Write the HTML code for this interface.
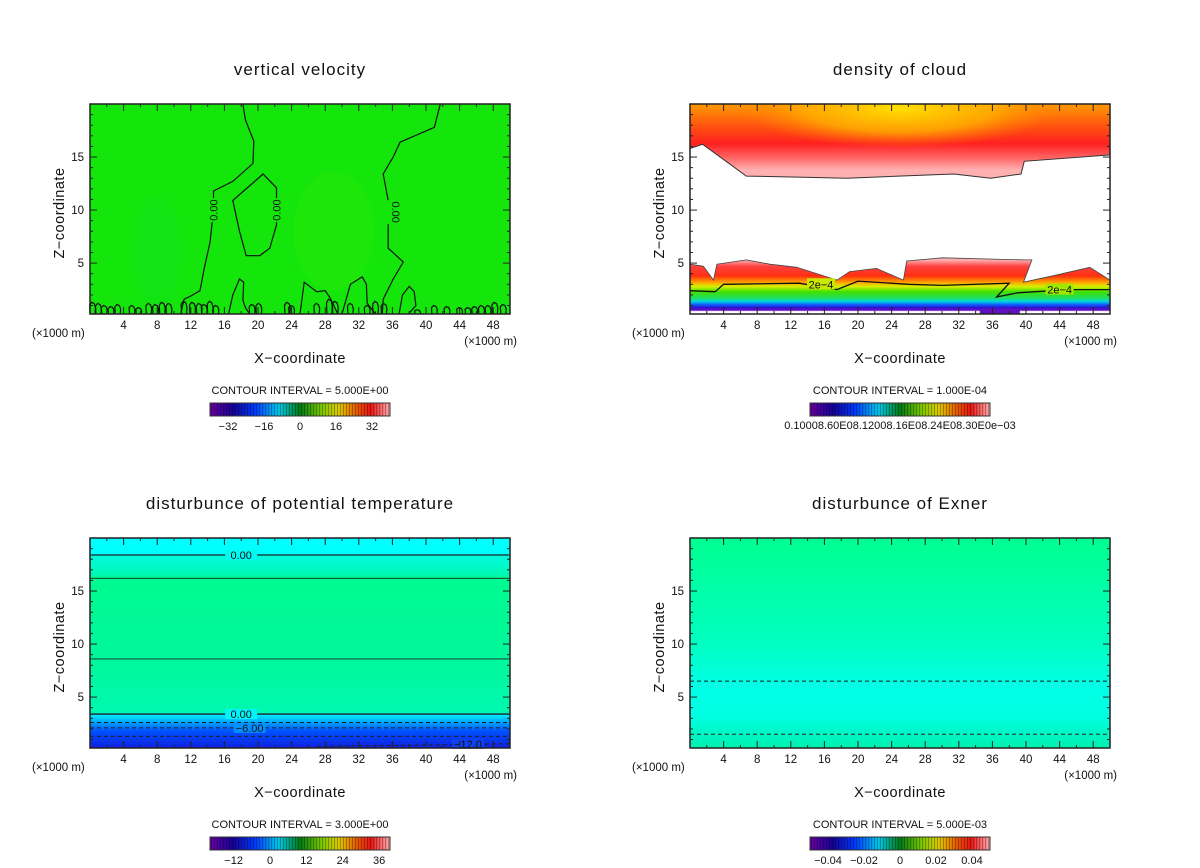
<!DOCTYPE html>
<html><head><meta charset="utf-8">
<style>
html,body{margin:0;padding:0;background:#fff;}
svg{display:block;font-family:"Liberation Sans","DejaVu Sans",sans-serif;}
.t{font-size:17px;letter-spacing:1px;fill:#111;}
.tk{font-size:11.5px;fill:#111;}
.ax{font-size:14.5px;fill:#111;letter-spacing:0.5px;}
.ci{font-size:11px;fill:#111;}
</style></head>
<body>
<svg id="fig" width="1200" height="868" viewBox="0 0 1200 868" xmlns="http://www.w3.org/2000/svg">
<defs>
<linearGradient id="cloudTop" x1="0" y1="104" x2="0" y2="170" gradientUnits="userSpaceOnUse">
<stop offset="0" stop-color="#ff9a00"/><stop offset="0.35" stop-color="#ff5010"/><stop offset="0.6" stop-color="#ff2020"/><stop offset="0.8" stop-color="#ff6060"/><stop offset="1" stop-color="#ffb0b0"/></linearGradient>
<radialGradient id="cloudYel" cx="900" cy="108" r="160" gradientUnits="userSpaceOnUse" gradientTransform="translate(900 108) scale(1 0.25) translate(-900 -108)">
<stop offset="0" stop-color="#ffe000"/><stop offset="0.6" stop-color="#ffb000" stop-opacity="0.8"/><stop offset="1" stop-color="#ff8000" stop-opacity="0"/></radialGradient>
<linearGradient id="cloudLow" x1="0" y1="260" x2="0" y2="313" gradientUnits="userSpaceOnUse">
<stop offset="0" stop-color="#ffb0b0"/><stop offset="0.12" stop-color="#ff4040"/><stop offset="0.3" stop-color="#ff3010"/><stop offset="0.42" stop-color="#ffa000"/><stop offset="0.5" stop-color="#d8f000"/><stop offset="0.6" stop-color="#40e000"/><stop offset="0.72" stop-color="#20e060"/><stop offset="0.78" stop-color="#00d8e0"/><stop offset="0.84" stop-color="#1060ff"/><stop offset="0.9" stop-color="#3010d0"/><stop offset="0.95" stop-color="#7010c0"/><stop offset="0.97" stop-color="#ffffff"/><stop offset="1" stop-color="#ffffff"/></linearGradient>
<linearGradient id="thetaG" x1="0" y1="538" x2="0" y2="748" gradientUnits="userSpaceOnUse">
<stop offset="0" stop-color="#00ffff"/><stop offset="0.078" stop-color="#00ffff"/><stop offset="0.08" stop-color="#00fae0"/><stop offset="0.18" stop-color="#00f8b0"/><stop offset="0.185" stop-color="#00fa90"/><stop offset="0.6" stop-color="#00f89c"/><stop offset="0.83" stop-color="#00f8b0"/><stop offset="0.84" stop-color="#00f0ff"/><stop offset="0.88" stop-color="#00a0ff"/><stop offset="0.92" stop-color="#0050ff"/><stop offset="1" stop-color="#1020e0"/></linearGradient>
<linearGradient id="exnerG" x1="0" y1="538" x2="0" y2="748" gradientUnits="userSpaceOnUse">
<stop offset="0" stop-color="#00ff90"/><stop offset="0.5" stop-color="#00ffc0"/><stop offset="0.72" stop-color="#00ffe8"/><stop offset="0.85" stop-color="#00ffe0"/><stop offset="1" stop-color="#00f0b0"/></linearGradient>
</defs>
</svg>
<script>
// ---- data arrays ----
const xTicks = [4,8,12,16,20,24,28,32,36,40,44,48];
const zTicks = [5,10,15];
const titles = ["vertical velocity","density of cloud","disturbunce of potential temperature","disturbunce of Exner"];
const intervals = ["CONTOUR INTERVAL = 5.000E+00","CONTOUR INTERVAL = 1.000E-04","CONTOUR INTERVAL = 3.000E+00","CONTOUR INTERVAL = 5.000E-03"];
const cbTicksW = [-32,-16,0,16,32];
const cbTicksT = [-12,0,12,24,36];
const cbTicksE = [-0.04,-0.02,0,0.02,0.04];
// w = 0 contours (x km, z km)
const wLineLeftX = [18.2,18.5,19.5,19.4,17,14.7,14.7,14.3,13.6,13.1,12,11.2,10.8];
const wLineLeftZ = [20,18.5,16.5,14.4,12.7,11.8,10,7,4.5,2.4,1.9,1.6,0.2];
const wLoopX = [17,20.6,22.2,22.2,21.4,20.2,18.6,17.8,17];
const wLoopZ = [10.9,13.4,12.1,8.6,6.4,5.7,5.7,8,10.9];
const wLineRightX = [41.7,41,36.9,36.1,34.9,35.5,35.5,37.3,36.1,34.9,34.8];
const wLineRightZ = [20,17.8,16.4,15,13.4,10.9,6.4,5.1,3.5,1.6,0.2];
const wBlobX = [[16.5,17,17.8,18.3,18.2,18.5,19],[25,25.5,27,28,28.6,29.5],[30,31,32.4,32.9,33,34],[36.8,37.2,38,38.6,38.8,37.9]];
const wBlobZ = [[0.2,2,3.5,3.2,1.5,0.8,0.2],[0.2,3.2,2.3,2.4,1.7,0.2],[0.2,3,3.7,3,1.2,0.2],[0.2,2,2.8,2.3,1,0.2]];
const wBumpX = [0.3,1,1.7,2.5,3.3,5,5.8,7,7.8,8.6,9.4,11.2,12.2,13,13.6,14.3,15,19.3,20.1,23.5,24,27,28.5,29.2,31,33,34,35,39,41,42.5,44,45,45.8,46.6,47.4,48.2,49.2];
const wBumpZ = [1.3,1.2,1,0.9,1.1,1,0.8,1.2,1.1,1.3,1.2,1.4,1.3,1.2,1.1,1.4,1,1.1,1.2,1.3,1,1.2,1.6,1.4,1.2,1,1.4,1.2,0.6,1,0.9,0.8,0.8,0.9,1,1,1.3,1.1];
// cloud boundaries
const cTopX = [0,1.5,4.3,6.7,13.5,18.7,31.4,35.8,39.4,39.8,50];
const cTopZ = [15.8,16.2,14.6,13.2,13.1,13,13.4,13,13.4,14.6,15.2];
const cLowX = [0,1.6,2.8,3.2,6.7,9.5,12.7,17.5,19,22.2,25.4,25.8,30.1,39.7,40.7,39.7,43.2,47.6,50];
const cLowZ = [4.9,4.7,3.4,4.9,5.3,4.9,4.6,3.4,4.2,4.5,3.4,5.2,5.5,5.3,5.3,3.2,3.8,4.6,3.4];
const c2eX = [0,3,4,13,17.5,20,26,30,38,36.5,39,45,50];
const c2eZ = [2.4,2.3,3.0,3.1,2.5,3.3,3.0,2.9,3.1,1.8,2.2,2.5,2.5];
// theta contours
const thLevels = [18.4,16.2,8.6,3.4];
const thDashed = [2.6,2.1,1.3];
const exDashed = [6.5,1.5];

const NS="http://www.w3.org/2000/svg";
const svg=document.getElementById('fig');
const W=420,H=210,XMAX=50,ZMIN=0.2,ZMAX=20;
function el(tag,attrs,parent){const e=document.createElementNS(NS,tag);for(const k in attrs)e.setAttribute(k,attrs[k]);(parent||svg).appendChild(e);return e;}
function sx(ox,x){return ox+x/XMAX*W;}
function sz(oy,z){return oy+H-(z-ZMIN)/(ZMAX-ZMIN)*H;}
function pathFrom(ox,oy,xs,zs,close){let d='';for(let i=0;i<xs.length;i++)d+=(i?'L':'M')+sx(ox,xs[i]).toFixed(1)+' '+sz(oy,zs[i]).toFixed(1);return d+(close?'Z':'');}

const panels=[{ox:90,oy:104},{ox:690,oy:104},{ox:90,oy:538},{ox:690,oy:538}];

function drawFrame(i){
  const {ox,oy}=panels[i];
  const g=el('g',{});
  
  
  el('rect',{x:ox,y:oy,width:W,height:H,fill:'none',stroke:'#222','stroke-width':1.5},g);
  for(let x=2;x<XMAX;x+=2){const L=x%4===0?7:3;const px=sx(ox,x);
    el('line',{x1:px,y1:oy+H,x2:px,y2:oy+H-L,stroke:'#222'},g);
    el('line',{x1:px,y1:oy,x2:px,y2:oy+L,stroke:'#222'},g);}
  for(let z=1;z<ZMAX;z++){const L=z%5===0?7:3;const py=sz(oy,z);
    el('line',{x1:ox,y1:py,x2:ox+L,y2:py,stroke:'#222'},g);
    el('line',{x1:ox+W,y1:py,x2:ox+W-L,y2:py,stroke:'#222'},g);}
  xTicks.forEach(v=>{const t=el('text',{x:sx(ox,v),y:oy+H+15,'text-anchor':'middle',class:'tk'},g);t.textContent=v;
    
    });
  zTicks.forEach(v=>{const t=el('text',{x:ox-6,y:sz(oy,v)+4,'text-anchor':'end',class:'tk'},g);t.textContent=v;
    
    });
  let t=el('text',{x:ox-58,y:oy+H+23,class:'tk'},g);t.textContent='(×1000 m)';
  
  
  t=el('text',{x:ox+W+7,y:oy+H+31,'text-anchor':'end',class:'tk'},g);t.textContent='(×1000 m)';
  
  
  t=el('text',{x:ox+W/2,y:oy+H+49,'text-anchor':'middle',class:'ax'},g);t.textContent='X−coordinate';
  
  
  t=el('text',{x:0,y:0,'text-anchor':'middle',class:'ax',transform:`translate(${ox-26},${oy+H/2+4}) rotate(-90)`},g);t.textContent='Z−coordinate';
  
  
  t=el('text',{x:ox+W/2,y:oy-29,'text-anchor':'middle',class:'t'},g);t.textContent=titles[i];
  
  
  t=el('text',{x:ox+W/2,y:oy+H+80,'text-anchor':'middle',class:'ci'},g);t.textContent=intervals[i];
  
  
}

const cmap=[[0,[100,0,160]],[0.12,[20,0,150]],[0.25,[0,60,255]],[0.38,[0,200,230]],[0.5,[0,120,20]],[0.62,[120,200,0]],[0.72,[220,200,0]],[0.82,[230,90,0]],[0.9,[230,20,20]],[1,[255,160,160]]];
function cm(f){for(let i=1;i<cmap.length;i++){if(f<=cmap[i][0]){const a=cmap[i-1],b=cmap[i];const u=(f-a[0])/(b[0]-a[0]);return 'rgb('+a[1].map((c,k)=>Math.round(c+(b[1][k]-c)*u)).join(',')+')';}}return 'rgb(255,160,160)';}
function drawColorbar(i,ticks,scale,zero,txt){
  const {ox,oy}=panels[i];const x0=ox+120,y0=oy+H+89,w=180,h=13;
  const g=el('g',{});
  
  
  const n=60;
  for(let k=0;k<n;k++){el('rect',{x:x0+k*w/n,y:y0,width:w/n+0.3,height:h,fill:cm(k/(n-1))},g);
    el('line',{x1:x0+k*w/n+1.5,y1:y0,x2:x0+k*w/n+1.5,y2:y0+h,stroke:'rgba(0,0,0,0.35)','stroke-width':0.8},g);}
  el('rect',{x:x0,y:y0,width:w,height:h,fill:'none',stroke:'#333'},g);
  if(ticks){ticks.forEach(v=>{const t=el('text',{x:ox+zero+v*scale,y:y0+27,'text-anchor':'middle',class:'ci'},g);
    t.textContent=(v<0?'−':'')+Math.abs(v);
    
    });}
  else{const t=el('text',{x:x0+w/2,y:y0+26,'text-anchor':'middle',class:'ci'},g);t.textContent=txt;
    
    }
}

// Panel 1: vertical velocity
(function(){const {ox,oy}=panels[0];
 const g=el('g',{});
 
 
 el('rect',{x:ox,y:oy,width:W,height:H,fill:'#14e60c'},g);
 el('ellipse',{cx:sx(ox,29),cy:sz(oy,8),rx:40,ry:60,fill:'#24e806',opacity:0.5},g);
 el('ellipse',{cx:sx(ox,8),cy:sz(oy,6),rx:25,ry:55,fill:'#10e020',opacity:0.4},g);
 const s={fill:'none',stroke:'#111','stroke-width':1.2};
 el('path',Object.assign({d:pathFrom(ox,oy,wLineLeftX,wLineLeftZ)},s),g);
 el('path',Object.assign({d:pathFrom(ox,oy,wLoopX,wLoopZ,true)},s),g);
 el('path',Object.assign({d:pathFrom(ox,oy,wLineRightX,wLineRightZ)},s),g);
 wBlobX.forEach((xs,k)=>el('path',Object.assign({d:pathFrom(ox,oy,xs,wBlobZ[k])},s),g));
 wBumpX.forEach((x,k)=>{const xs=[x-0.3,x-0.35,x-0.1,x+0.2,x+0.35,x+0.3];const zs=[0.2,wBumpZ[k]*0.8,wBumpZ[k],wBumpZ[k]*0.9,wBumpZ[k]*0.6,0.2];
   el('path',Object.assign({d:pathFrom(ox,oy,xs,zs)},s),g);});
 [[14.7,10,'0.00'],[22.2,10,'0.00'],[35.5,9.8,'0.00']].forEach(([x,z,l],k)=>{
   el('rect',{x:sx(ox,x)-6,y:sz(oy,z)-12,width:12,height:24,fill:'#14e60c'},g);
   const t=el('text',{x:0,y:0,'text-anchor':'middle',class:'ci',transform:`translate(${sx(ox,x)+4},${sz(oy,z)}) rotate(${k==2?90:-90})`},g);t.textContent=l;
   
   });
})();
// Panel 2: cloud
(function(){const {ox,oy}=panels[1];
 const g=el('g',{});
 
 
 el('rect',{x:ox,y:oy,width:W,height:H,fill:'#fff'},g);
 const top=pathFrom(ox,oy,[0].concat(cTopX).concat([50]),[ZMAX].concat(cTopZ).concat([ZMAX]),true);
 el('path',{d:top,fill:'url(#cloudTop)'},g);
 el('path',{d:top,fill:'url(#cloudYel)'},g);
 el('path',{d:pathFrom(ox,oy,cTopX,cTopZ),fill:'none',stroke:'#333','stroke-width':1},g);
 const low=pathFrom(ox,oy,[0].concat(cLowX).concat([50]),[ZMIN].concat(cLowZ).concat([ZMIN]),true);
 el('path',{d:low,fill:'url(#cloudLow)'},g);
 el('path',{d:pathFrom(ox,oy,cLowX,cLowZ),fill:'none',stroke:'#444','stroke-width':0.8},g);
 el('rect',{x:sx(ox,34.5),y:sz(oy,0.7),width:40,height:5,fill:'#6010c0'},g);
 el('path',{d:pathFrom(ox,oy,c2eX,c2eZ),fill:'none',stroke:'#111','stroke-width':1.3},g);
 [[15.6,3.0,'#c8e800'],[44,2.5,'#a0e800']].forEach(([x,z,c])=>{el('rect',{x:sx(ox,x)-14,y:sz(oy,z)-6,width:28,height:11,fill:c},g);
   const t=el('text',{x:sx(ox,x),y:sz(oy,z)+4,'text-anchor':'middle',class:'ci'},g);t.textContent='2e−4';
   
   });
})();
// Panel 3: theta
(function(){const {ox,oy}=panels[2];
 const g=el('g',{});
 
 
 el('rect',{x:ox,y:oy,width:W,height:H,fill:'url(#thetaG)'},g);
 thLevels.forEach((z,k)=>el('line',{x1:ox,x2:ox+W,y1:sz(oy,z),y2:sz(oy,z),stroke:'#222','stroke-width':k==0||k==3?1.3:0.9},g));
 thDashed.forEach(z=>el('line',{x1:ox,x2:ox+W,y1:sz(oy,z),y2:sz(oy,z),stroke:'#222','stroke-dasharray':'4 3'},g));
 el('line',{x1:sx(ox,27),x2:ox+W,y1:sz(oy,0.35),y2:sz(oy,0.6),stroke:'#222','stroke-dasharray':'4 3'},g);
 [[18,18.4,'0.00','#00fbf0'],[18,3.4,'0.00','#00f4f8'],[19,2.1,'−6.00','#0090ff'],[45,0.6,'−12.0','#1040f0']].forEach(([x,z,l,c])=>{
   el('rect',{x:sx(ox,x)-16,y:sz(oy,z)-5,width:32,height:10,fill:c},g);
   const t=el('text',{x:sx(ox,x),y:sz(oy,z)+4,'text-anchor':'middle',class:'ci'},g);t.textContent=l;
   
   });
})();
// Panel 4: Exner
(function(){const {ox,oy}=panels[3];
 const g=el('g',{});
 
 
 el('rect',{x:ox,y:oy,width:W,height:H,fill:'url(#exnerG)'},g);
 exDashed.forEach(z=>el('line',{x1:ox,x2:ox+W,y1:sz(oy,z),y2:sz(oy,z),stroke:'#222','stroke-dasharray':'4 3'},g));
})();
for(let i=0;i<4;i++)drawFrame(i);
drawColorbar(0,cbTicksW,2.25,210);
drawColorbar(1,null,0,0,'0.10008.60E08.12008.16E08.24E08.30E0e−03');
drawColorbar(2,cbTicksT,3.03,180);
drawColorbar(3,cbTicksE,1800,210);
</script>
</body></html>
